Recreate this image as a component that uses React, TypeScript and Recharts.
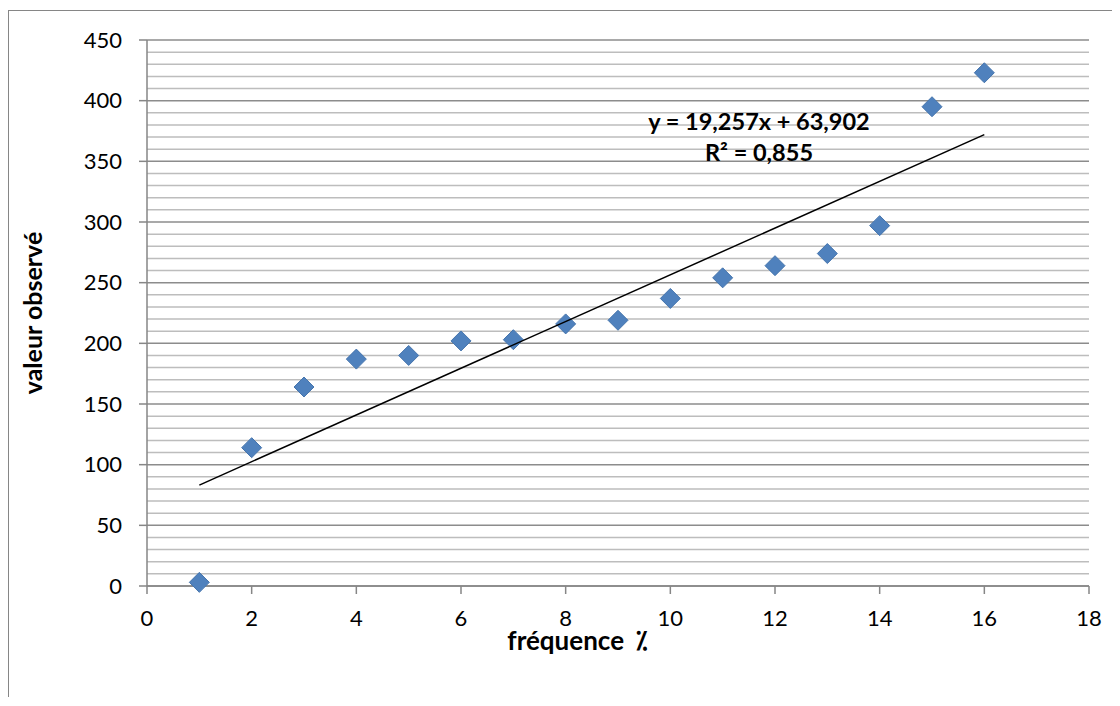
import {
  ScatterChart,
  Scatter,
  XAxis,
  YAxis,
  CartesianGrid,
  ReferenceLine,
} from "recharts";

const frequences = [1, 2, 3, 4, 5, 6, 7, 8, 9, 10, 11, 12, 13, 14, 15, 16];
const valeurs = [3, 114, 164, 187, 190, 202, 203, 216, 219, 237, 254, 264, 274, 297, 395, 423];

const xTicks = [0, 2, 4, 6, 8, 10, 12, 14, 16, 18];
const yTicks = [0, 50, 100, 150, 200, 250, 300, 350, 400, 450];
const yMinor = [
  10, 20, 30, 40, 60, 70, 80, 90, 110, 120, 130, 140, 160, 170, 180, 190, 210, 220, 230, 240,
  260, 270, 280, 290, 310, 320, 330, 340, 360, 370, 380, 390, 410, 420, 430, 440,
];

// trendline coefficients shown on the chart
const pente = 19.257;
const origine = 63.902;
const trendX = [1, 16];

const points = frequences.map((x, i) => ({ x, y: valeurs[i] }));
const trend = trendX.map((x) => ({ x, y: origine + pente * x }));

const FONT = "Lato, 'Open Sans', sans-serif";

const Diamond = (props: any) => {
  const { cx, cy } = props;
  if (cx == null || cy == null) return null;
  const r = 10;
  return (
    <polygon
      points={`${cx},${cy - r} ${cx + r},${cy} ${cx},${cy + r} ${cx - r},${cy}`}
      fill="#4f81bd"
      stroke="#4675ad"
      strokeWidth={1}
    />
  );
};

export default function App() {
  return (
    <div
      style={{
        position: "relative",
        marginTop: 2,
        width: 1110,
        height: 686,
        borderLeft: "1px solid #868686",
        borderTop: "1px solid #868686",
        fontFamily: FONT,
        background: "#fff",
      }}
    >
      <ScatterChart
        width={1110}
        height={686}
        margin={{ top: 29, right: 30, bottom: 0, left: 0 }}
      >
        <CartesianGrid vertical={false} stroke="#8c8c8c" strokeWidth={1.5} />
        {yMinor.map((v) => (
          <ReferenceLine key={v} y={v} stroke="#bdbdbd" strokeWidth={1.5} />
        ))}
        <XAxis
          type="number"
          dataKey="x"
          domain={[0, 18]}
          ticks={xTicks}
          interval={0}
          tickSize={8}
          tickMargin={16}
          axisLine={{ stroke: "#868686", strokeWidth: 1.5 }}
          tickLine={{ stroke: "#868686", strokeWidth: 1.5 }}
          tick={{ fill: "#000", fontSize: 22, fontFamily: FONT }}
          height={111}
        />
        <YAxis
          type="number"
          dataKey="y"
          domain={[0, 450]}
          ticks={yTicks}
          interval={0}
          tickSize={8}
          tickMargin={17}
          axisLine={{ stroke: "#868686", strokeWidth: 1.5 }}
          tickLine={{ stroke: "#868686", strokeWidth: 1.5 }}
          tick={{ fill: "#000", fontSize: 22, fontFamily: FONT }}
          width={138}
          label={{
            value: "valeur observé",
            angle: -90,
            position: "insideLeft",
            offset: 24,
            style: {
              textAnchor: "middle",
              fontWeight: "bold",
              fontSize: 25,
              fill: "#000",
              fontFamily: FONT,
            },
          }}
        />
        <Scatter
          data={points}
          shape={Diamond}
          isAnimationActive={false}
        />
        <Scatter
          data={trend}
          line={{ stroke: "#000", strokeWidth: 1.5 }}
          shape={() => null}
          isAnimationActive={false}
        />
      </ScatterChart>
      <div
        style={{
          position: "absolute",
          left: 600,
          width: 300,
          top: 95,
          textAlign: "center",
          fontWeight: "bold",
          fontSize: 23.5,
          lineHeight: "31px",
          color: "#000",
        }}
      >
        <div>y = 19,257x + 63,902</div>
        <div>R² = 0,855</div>
      </div>
      <div
        style={{
          position: "absolute",
          left: 418,
          width: 300,
          top: 614,
          textAlign: "center",
          fontWeight: "bold",
          fontSize: 26,
          lineHeight: "30px",
          color: "#000",
          whiteSpace: "pre",
        }}
      >
        {"fréquence  ⁒"}
      </div>
    </div>
  );
}
